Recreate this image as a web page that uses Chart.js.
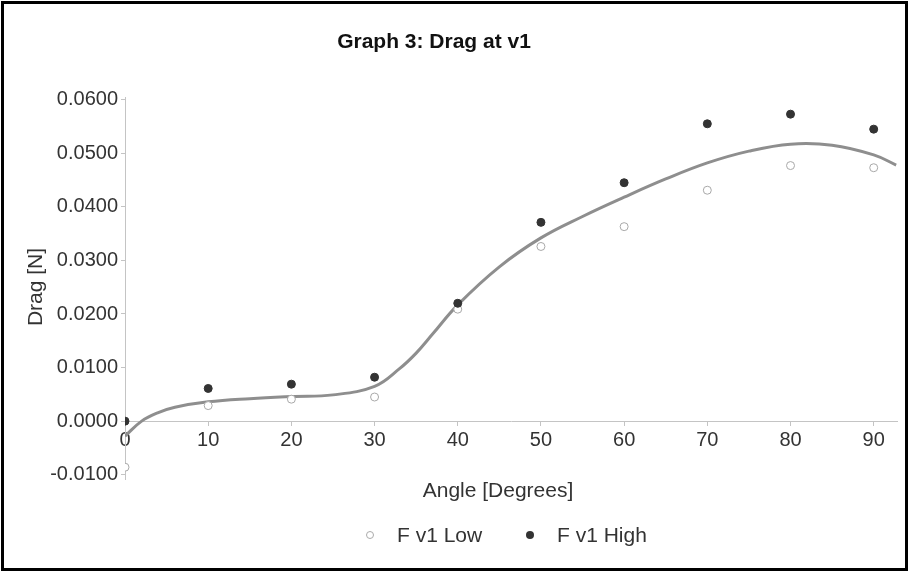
<!DOCTYPE html>
<html>
<head>
<meta charset="utf-8">
<script src="https://cdn.jsdelivr.net/npm/chart.js@4/dist/chart.umd.min.js"></script>
<style>
    body { margin: 0; background: #fff; }
    .quadro { position: relative; width: 909px; height: 572px; }
    .quadro canvas { position: absolute; left: 0; top: 0; }
    .moldura { position: absolute; left: 1px; top: 1px; width: 901px; height: 564px; border: 3px solid #000; pointer-events: none; }
</style>
</head>
<body>
<div class="quadro">
    <canvas id="grafico" width="909" height="572"></canvas>
    <div class="moldura"></div>
</div>
<script>
// valores
const angulos = [0, 10, 20, 30, 40, 50, 60, 70, 80, 90];
const fLow = [-0.0086, 0.0029, 0.0041, 0.0045, 0.0209, 0.0326, 0.0363, 0.0431, 0.0477, 0.0473];
const fHigh = [0.0000, 0.0061, 0.0069, 0.0082, 0.0220, 0.0371, 0.0445, 0.0555, 0.0573, 0.0545];

// linha de tendencia
const tendX = [0, 2, 4, 6, 10, 15, 20, 25, 30, 33, 35, 37, 40, 45, 50, 55, 60, 65, 70, 75, 80, 85, 90, 92.7];
const tendY = [-0.0028, 0.0000, 0.0016, 0.0026, 0.0036, 0.0042, 0.0046, 0.0049, 0.0065, 0.0098, 0.0127, 0.0163, 0.0217, 0.0288, 0.0342, 0.0382, 0.0418, 0.0452, 0.0482, 0.0504, 0.0517, 0.0515, 0.0497, 0.0478];

const ticksX = [0, 10, 20, 30, 40, 50, 60, 70, 80, 90];
const ticksY = [-0.01, 0.0, 0.01, 0.02, 0.03, 0.04, 0.05, 0.06];

const fonte = "'Liberation Sans', Arial, sans-serif";

function pares(xs, ys) {
    return xs.map((x, i) => ({ x: x, y: ys[i] }));
}

const textos = {
    id: 'textos',
    afterDraw(chart) {
        let ctx = chart.ctx;
        ctx.save();
        ctx.fillStyle = '#111';
        ctx.textBaseline = 'alphabetic';
        ctx.textAlign = 'center';
        ctx.font = 'bold 21px ' + fonte;
        ctx.fillText('Graph 3: Drag at v1', 434, 48);

        ctx.fillStyle = '#333';
        ctx.font = '21px ' + fonte;
        ctx.fillText('Angle [Degrees]', 498, 497);

        ctx.save();
        ctx.translate(42, 287);
        ctx.rotate(-Math.PI / 2);
        ctx.fillText('Drag [N]', 0, 0);
        ctx.restore();

        // legenda
        ctx.textAlign = 'left';
        ctx.beginPath();
        ctx.arc(370, 535, 3.5, 0, Math.PI * 2);
        ctx.fillStyle = '#fff';
        ctx.fill();
        ctx.strokeStyle = '#aaa';
        ctx.lineWidth = 1;
        ctx.stroke();
        ctx.fillStyle = '#333';
        ctx.fillText('F v1 Low', 397, 542);

        ctx.beginPath();
        ctx.arc(530, 535, 4, 0, Math.PI * 2);
        ctx.fillStyle = '#333';
        ctx.fill();
        ctx.fillText('F v1 High', 557, 542);
        ctx.restore();
    }
};

new Chart(document.getElementById('grafico'), {
    type: 'scatter',
    data: {
        datasets: [
            {
                label: 'Tendencia',
                type: 'line',
                data: pares(tendX, tendY),
                borderColor: '#8e8e8e',
                borderWidth: 3,
                pointRadius: 0,
                tension: 0.4,
                fill: false,
                order: 2
            },
            {
                label: 'F v1 Low',
                data: pares(angulos, fLow),
                pointRadius: 4,
                pointBackgroundColor: '#fff',
                pointBorderColor: '#a8a8a8',
                pointBorderWidth: 1,
                order: 1
            },
            {
                label: 'F v1 High',
                data: pares(angulos, fHigh),
                pointRadius: 4,
                pointBackgroundColor: '#333',
                pointBorderColor: '#333',
                pointBorderWidth: 1,
                order: 0
            }
        ]
    },
    options: {
        responsive: false,
        animation: false,
        layout: { padding: { left: 0, right: 12, top: 97, bottom: 93 } },
        plugins: {
            legend: { display: false },
            title: { display: false },
            tooltip: { enabled: false }
        },
        scales: {
            x: {
                type: 'linear',
                position: { y: 0 },
                min: 0,
                max: 92.8,
                afterBuildTicks: s => { s.ticks = ticksX.map(v => ({ value: v })); },
                afterFit: s => { s.height = 0; },
                grid: { display: true, drawOnChartArea: false, drawTicks: true, tickLength: 4, color: '#c4c4c4' },
                border: { display: true, color: '#c4c4c4', width: 1 },
                ticks: { color: '#333', padding: 3, font: { family: fonte, size: 20 } }
            },
            y: {
                type: 'linear',
                min: -0.0108,
                max: 0.0605,
                afterBuildTicks: s => { s.ticks = ticksY.map(v => ({ value: v })); },
                afterFit: s => { s.width = 125; },
                grid: { display: true, drawOnChartArea: false, drawTicks: true, tickLength: 4, color: '#c4c4c4' },
                border: { display: true, color: '#c4c4c4', width: 1 },
                ticks: {
                    color: '#333',
                    padding: 3,
                    font: { family: fonte, size: 20 },
                    callback: v => v.toFixed(4)
                }
            }
        }
    },
    plugins: [textos]
});
</script>
</body>
</html>
